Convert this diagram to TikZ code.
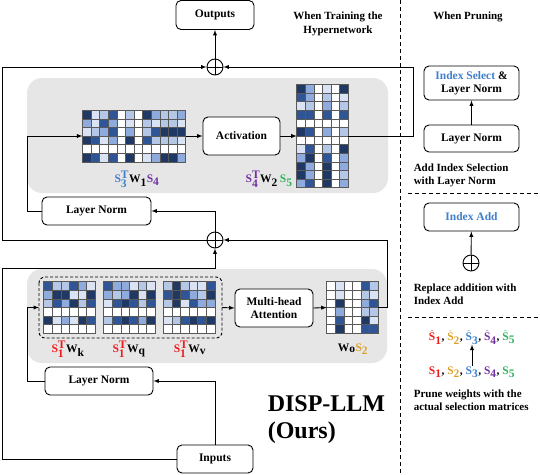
\documentclass[tikz,border=0pt]{standalone}
\usepackage{fontspec}
\setmainfont{Liberation Serif}
\usetikzlibrary{calc}
\definecolor{lv0}{HTML}{FFFFFF}
\definecolor{lv1}{HTML}{DAE3F3}
\definecolor{lv2}{HTML}{B4C7E7}
\definecolor{lv3}{HTML}{8FAADC}
\definecolor{lv4}{HTML}{2F5597}
\definecolor{lv5}{HTML}{203864}
\definecolor{bgrey}{HTML}{E6E6E6}
\definecolor{sone}{HTML}{F01818}
\definecolor{stwo}{HTML}{D9A22B}
\definecolor{sthree}{HTML}{3F7FCB}
\definecolor{sfour}{HTML}{7030A0}
\definecolor{sfive}{HTML}{2CB35A}
\newcommand{\wgrid}[2]{%
  \foreach \row [count=\i] in {#2} {
    \foreach \v [count=\j] in \row {
      \draw[cellline,fill=lv\v] ($(#1.north west)+({(\j-1)*8.6},{(\i-1)*8.6})$) rectangle ++(8.6,8.6);
    }
  }}
\newcommand{\Sel}[2]{\textcolor{#1}{$\textbf{S}_{\textbf{#2}}$}}
\newcommand{\SelT}[2]{\textcolor{#1}{$\textbf{S}^{\textbf{T}}_{\textbf{#2}}$}}
\newcommand{\Shat}[2]{\textcolor{#1}{$\hat{\textbf{S}}_{\textbf{#2}}$}}
\newcommand{\Wm}[1]{$\textbf{W}_{\textbf{#1}}$}

\begin{document}
\begin{tikzpicture}[x=1pt,y=-1pt,>=latex,line width=0.9pt,
    blk/.style={draw,rounded corners=5pt,fill=white,align=center,inner sep=0pt,
      font=\bfseries\fontsize{11.5}{13.5}\selectfont},
    addop/.style={circle,draw,fill=white,minimum size=16pt,inner sep=0pt,
      path picture={\draw (path picture bounding box.north) -- (path picture bounding box.south)
        (path picture bounding box.west) -- (path picture bounding box.east);}},
    wbox/.style={inner sep=0pt,outer sep=0pt},
    cellline/.style={draw=black!65,line width=0.5pt},
    lbl/.style={font=\bfseries\fontsize{11.5}{13.5}\selectfont,inner sep=1pt},
    note/.style={font=\bfseries\fontsize{11}{13}\selectfont,align=left,anchor=west},
    sepline/.style={dash pattern=on 4pt off 3pt,line width=1pt}]
  \useasboundingbox (0,0) rectangle (540,474);

  % grey panels
  \fill[bgrey,rounded corners=15pt] (27,78) rectangle (388,193);
  \fill[bgrey,rounded corners=15pt] (27,269) rectangle (387,363);
  \draw[rounded corners=6pt,dash pattern=on 3pt off 2pt] (39,277) rectangle (222,338);
  \node[wbox,minimum width=183pt,minimum height=61pt] (qkv) at (130.5,307.5) {};

  % blocks
  \node[blk,minimum width=78pt,minimum height=29pt] (outputs) at (215,15) {Outputs};
  \node[addop] (plus1) at (215,67) {};
  \node[blk,minimum width=77pt,minimum height=38pt] (act) at (241.5,136) {Activation};
  \node[blk,minimum width=109pt,minimum height=28pt] (ln1) at (96.5,211) {Layer Norm};
  \node[addop] (plus2) at (215,240) {};
  \node[blk,minimum width=78pt,minimum height=38pt] (mha) at (274,308) {Multi-head\\Attention};
  \node[blk,minimum width=108pt,minimum height=28pt] (ln2) at (99,381) {Layer Norm};
  \node[blk,minimum width=76pt,minimum height=28pt] (inputs) at (215,459) {Inputs};

  % weight matrices
  \node[wbox,minimum width=103.2pt,minimum height=51.6pt] (w1) at (134,136) {};
  \node[wbox,minimum width=51.6pt,minimum height=103.2pt] (w2) at (322.5,136) {};
  \node[wbox,minimum width=51.6pt,minimum height=51.6pt] (wk) at (69.5,307.5) {};
  \node[wbox,minimum width=51.6pt,minimum height=51.6pt] (wq) at (129.5,307.5) {};
  \node[wbox,minimum width=51.6pt,minimum height=51.6pt] (wv) at (189,307.5) {};
  \node[wbox,minimum width=51.6pt,minimum height=51.6pt] (wo) at (352.5,307.5) {};
  \wgrid{w1}{{5,1,2,4,0,2,0,5,3,2,2,3},{3,1,4,3,0,1,0,2,1,2,2,1},{1,2,3,4,0,3,0,2,4,5,5,5},
    {5,4,1,3,0,5,0,4,2,2,2,1},{0,0,0,0,0,0,0,0,0,0,0,0},{5,4,1,4,0,5,0,1,3,5,5,3}}
  \wgrid{w2}{{5,3,0,1,0,5},{4,3,0,2,0,1},{1,2,0,3,0,2},{4,4,0,4,0,4},{0,0,0,0,0,0},{5,4,0,3,0,2},
    {0,0,0,0,0,0},{1,4,0,2,0,5},{3,5,0,4,0,3},{5,3,0,5,0,3},{5,3,0,5,0,2},{3,4,0,5,0,3}}
  \wgrid{wk}{{4,2,2,4,3,1},{3,5,5,1,1,5},{2,4,3,5,2,4},{0,0,0,0,0,0},{5,1,3,1,5,4},{0,0,0,0,0,0}}
  \wgrid{wq}{{4,3,3,1,2,1},{3,2,3,5,1,5},{1,4,5,4,2,4},{0,0,0,0,0,0},{2,4,5,4,3,5},{0,0,0,0,0,0}}
  \wgrid{wv}{{2,5,2,1,1,4},{4,5,4,3,2,5},{2,5,1,4,3,3},{0,0,0,0,0,0},{1,2,4,5,4,5},{0,0,0,0,0,0}}
  \wgrid{wo}{{0,1,0,0,4,2},{0,1,0,0,2,1},{0,5,0,0,3,4},{0,3,0,0,2,2},{0,4,0,0,5,1},{0,5,0,0,4,4}}

  % matrix labels
  \node[lbl] (w1lbl) at (137,179) {\SelT{sthree}{3}\Wm{1}\Sel{sfour}{4}};
  \node[lbl,anchor=east] (w2lbl) at (294,179) {\SelT{sfour}{4}\Wm{2}\,\Sel{sfive}{5}};
  \node[lbl] (wklbl) at (68,349) {\SelT{sone}{1}\Wm{k}};
  \node[lbl] (wqlbl) at (129,349) {\SelT{sone}{1}\Wm{q}};
  \node[lbl] (wvlbl) at (190,349) {\SelT{sone}{1}\Wm{v}};
  \node[lbl] (wolbl) at (353,349) {\Wm{o}\Sel{stwo}{2}};

  \node[font=\bfseries\fontsize{11}{14.5}\selectfont,align=center] (train) at (338,24)
    {When Training the\\Hypernetwork};
  \node[font=\bfseries\fontsize{24}{27}\selectfont,align=left,anchor=north west] (name) at (264,392)
    {DISP-LLM\\(Ours)};

  % connections
  \draw[->] (plus1) -- (outputs);
  \draw[->] (w2.east) -- ++(65,0) |- (plus1.east);
  \draw[->] (plus2.west) -- (2,240) |- (plus1.west);
  \draw[->] (plus2.north) |- (ln1.east);
  \draw[->] (ln1.west) -- (27,211) |- (w1.west);
  \draw[->] (w1.east) -- (act.west);
  \draw[->] (act.east) -- (w2.west);
  \draw[->] (inputs.north) |- (ln2.east);
  \draw[->] (inputs.west) -| (2,268) -| (plus2.south);
  \draw[->] (ln2.west) -- (27,381) |- (qkv.west);
  \draw[->] (qkv.east) -- (mha.west);
  \draw[->] (mha.east) -- (wo.west);
  \draw[->] (wo.east) -- (387,307.5) |- (plus2.east);

  % pruning side
  \draw[sepline] (400,0) -- (400,474);
  \node[font=\bfseries\fontsize{11}{13}\selectfont] (prune) at (468,17) {When Pruning};
  \node[blk,minimum width=95pt,minimum height=34pt] (isel) at (471.5,83)
    {\textcolor{sthree}{Index Select} \&\\Layer Norm};
  \node[blk,minimum width=95pt,minimum height=27pt] (lnp) at (471.5,138.5) {Layer Norm};
  \draw[->] (lnp) -- (isel);
  \node[note] (addsel) at (410,175) {Add Index Selection\\with Layer Norm};
  \draw[sepline] (408,193) -- (540,193);
  \node[blk,minimum width=95pt,minimum height=28pt] (iadd) at (471.5,217)
    {\textcolor{sthree}{Index Add}};
  \node[addop] (plus3) at (471,263) {};
  \draw[->] (plus3) -- (iadd);
  \node[note] (repl) at (410,294) {Replace addition with\\Index Add};
  \draw[sepline] (408,317) -- (540,317);
  \node[lbl,inner sep=0pt] (shat) at (472,337) {\Shat{sone}{1}, \Shat{stwo}{2}, \Shat{sthree}{3}, \Shat{sfour}{4}, \Shat{sfive}{5}};
  \node[lbl,inner sep=0pt] (srow) at (472,372) {\Sel{sone}{1}, \Sel{stwo}{2}, \Sel{sthree}{3}, \Sel{sfour}{4}, \Sel{sfive}{5}};
  \draw[->] (srow) -- (shat);
  \node[note] (prunew) at (410,400) {Prune weights with the\\actual selection matrices};
\end{tikzpicture}
\end{document}
